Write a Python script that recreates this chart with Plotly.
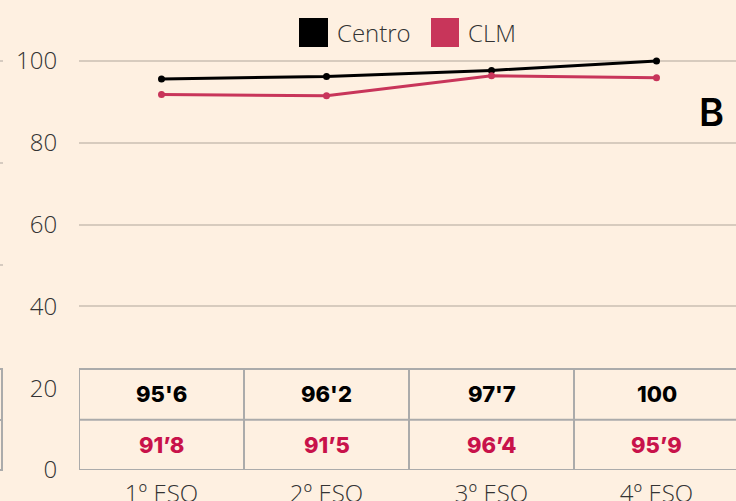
import plotly.graph_objects as go

categories = ["1º ESO", "2º ESO", "3º ESO", "4º ESO"]
centro = [95.6, 96.2, 97.7, 100]
clm = [91.8, 91.5, 96.4, 95.9]
centro_labels = ["95'6", "96'2", "97'7", "100"]
clm_labels = ["91’8", "91’5", "96’4", "95’9"]
y_ticks = [0, 20, 40, 60, 80, 100]

BG = "#FEF0E1"
BLACK = "#000000"
RED = "#C8355A"
RED_TXT = "#C8124A"
GRID = "#D7CBBE"
TBL = "#ABABAB"

W, H = 736, 501
ML, MR, MT, MB = 79, 0, 20, 31
PW, PH = W - ML - MR, H - MT - MB

def px(x):
    return (x - ML) / PW

def py(y):
    return (H - MB - y) / PH

fig = go.Figure()
x_idx = list(range(len(categories)))
fig.add_trace(go.Scatter(x=x_idx, y=centro, mode="lines+markers", name="Centro",
                         line=dict(color=BLACK, width=3), marker=dict(size=7, color=BLACK),
                         showlegend=False))
fig.add_trace(go.Scatter(x=x_idx, y=clm, mode="lines+markers", name="CLM",
                         line=dict(color=RED, width=3), marker=dict(size=7, color=RED),
                         showlegend=False))

shapes = []
annotations = []

# table
row_mid = 12.3
row_top = 24.7
shapes.append(dict(type="rect", xref="x", yref="y", x0=-0.5, x1=3.6, y0=0, y1=row_top,
                   fillcolor=BG, line=dict(color=TBL, width=2), layer="above"))
shapes.append(dict(type="line", xref="x", yref="y", x0=-0.5, x1=3.6, y0=row_mid, y1=row_mid,
                   line=dict(color=TBL, width=2)))
for i in range(len(categories) - 1):
    shapes.append(dict(type="line", xref="x", yref="y", x0=i + 0.5, x1=i + 0.5, y0=0, y1=row_top,
                       line=dict(color=TBL, width=2)))
for i, (a, b) in enumerate(zip(centro_labels, clm_labels)):
    annotations.append(dict(x=i, y=(row_mid + row_top) / 2, xref="x", yref="y", text=a,
                            showarrow=False, font=dict(family="Inter", size=22, color=BLACK, weight=800)))
    annotations.append(dict(x=i, y=row_mid / 2, xref="x", yref="y", text=b,
                            showarrow=False, font=dict(family="Inter", size=22, color=RED_TXT, weight=800)))

# legend (manual)
for (x0, x1, col) in [(299, 328, BLACK), (431, 459, RED)]:
    shapes.append(dict(type="rect", xref="paper", yref="paper", x0=px(x0), x1=px(x1),
                       y0=py(47), y1=py(18), fillcolor=col, line=dict(width=0)))
for (x0, txt) in [(335, "Centro"), (466, "CLM")]:
    annotations.append(dict(x=px(x0), y=py(33), xref="paper", yref="paper", text=txt,
                            xanchor="left", yanchor="middle", showarrow=False,
                            font=dict(family="Open Sans", size=24, color="#333333", weight=300)))

# "B" label
annotations.append(dict(x=px(711), y=py(112), xref="paper", yref="paper", text="B",
                        showarrow=False, xanchor="center", yanchor="middle",
                        font=dict(family="Inter", size=38, color=BLACK, weight=600)))

# stubs of neighbouring chart at far left
for yy in [61, 163, 265]:
    shapes.append(dict(type="line", xref="paper", yref="paper", x0=px(0), x1=px(3),
                       y0=py(yy), y1=py(yy), line=dict(color="#C8BFB5", width=1.5)))
shapes.append(dict(type="rect", xref="paper", yref="paper", x0=px(-10), x1=px(2),
                   y0=py(470), y1=py(369), line=dict(color=TBL, width=2), fillcolor=BG))
shapes.append(dict(type="line", xref="paper", yref="paper", x0=px(-10), x1=px(2),
                   y0=py(420), y1=py(420), line=dict(color=TBL, width=2)))

fig.update_layout(
    width=W, height=H,
    margin=dict(l=ML, r=MR, t=MT, b=MB, autoexpand=False),
    paper_bgcolor=BG, plot_bgcolor=BG,
    shapes=shapes, annotations=annotations,
    xaxis=dict(tickmode="array", tickvals=x_idx, ticktext=categories, automargin=False,
               range=[-0.5, -0.5 + PW / 165], showgrid=False, zeroline=False, showline=False,
               ticks="outside", ticklen=2, tickcolor="rgba(0,0,0,0)",
               tickfont=dict(family="Open Sans", size=24, color="#333333", weight=300)),
    yaxis=dict(range=[0, PH / 4.09], tickvals=y_ticks, showgrid=True, gridcolor=GRID, gridwidth=1.5,
               automargin=False,
               zeroline=False, showline=False, ticks="outside", ticklen=16, tickcolor="rgba(0,0,0,0)",
               tickfont=dict(family="Open Sans", size=24, color="#333333", weight=300)),
)

fig.write_html("out.html", config={"displayModeBar": False},
               post_script="document.body.style.margin='0';document.body.style.overflow='hidden';")
